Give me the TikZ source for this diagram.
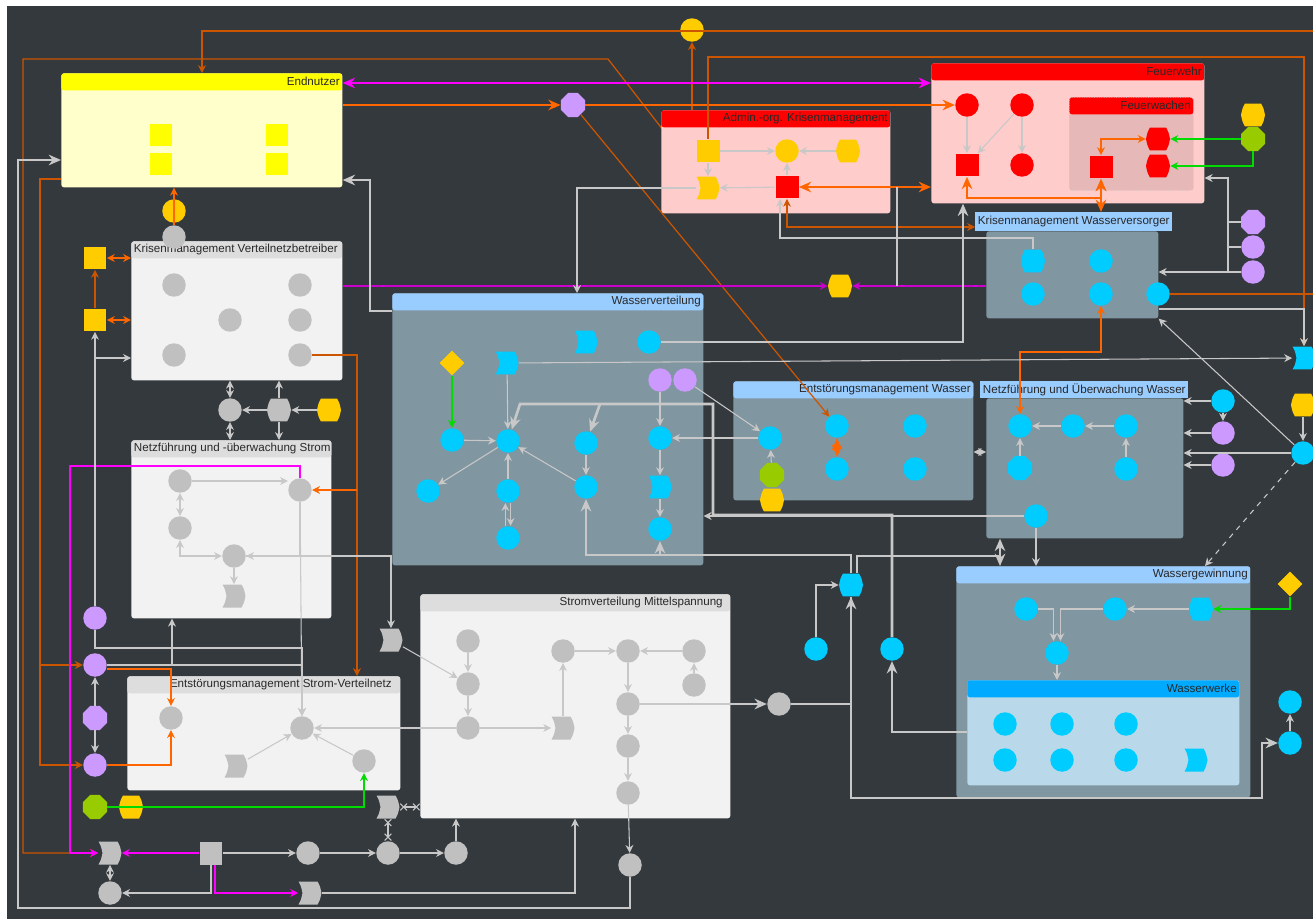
\documentclass[tikz,border=0pt]{standalone}
\usepackage{fontspec}
\usepackage{tikz}
\usetikzlibrary{arrows.meta,shapes.geometric}
\newfontfamily\lblfont{Liberation Sans}

\definecolor{bgdark}{RGB}{52,57,61}
\definecolor{ngrey}{RGB}{192,192,192}
\definecolor{lgrey}{RGB}{200,200,200}
\definecolor{ncyan}{RGB}{0,204,255}
\definecolor{npurple}{RGB}{204,153,255}
\definecolor{nyellow}{RGB}{255,204,0}
\definecolor{lemon}{RGB}{255,255,0}
\definecolor{nred}{RGB}{255,0,0}
\definecolor{ngreen}{RGB}{153,204,0}
\definecolor{pinkbody}{RGB}{255,204,204}
\definecolor{pinkdeep}{RGB}{230,184,183}
\definecolor{cream}{RGB}{255,255,204}
\definecolor{paleblue}{RGB}{153,204,255}
\definecolor{slate}{RGB}{128,150,160}
\definecolor{wwhead}{RGB}{0,170,255}
\definecolor{wwbody}{RGB}{185,216,234}
\definecolor{lightbody}{RGB}{242,242,242}
\definecolor{lighthead}{RGB}{221,221,221}
\definecolor{orng}{RGB}{255,102,0}
\definecolor{orngdark}{RGB}{204,85,0}
\definecolor{mag}{RGB}{255,0,255}
\definecolor{magdark}{RGB}{204,0,204}
\definecolor{grn}{RGB}{0,220,0}
\definecolor{textdark}{RGB}{40,40,40}

\pgfdeclarelayer{back}
\pgfsetlayers{back,main}

\tikzset{
  panel/.style={rectangle, rounded corners=1.5pt, anchor=north west, inner sep=0pt},
  hdr/.style={path picture={\fill[#1] (path picture bounding box.north west) rectangle ([yshift=-0.34cm]path picture bounding box.north east);}},
  ttl/.style={font=\lblfont\fontsize{6.6}{8}\selectfont, text=textdark, inner xsep=1.5pt, inner ysep=0pt, minimum height=0.34cm},
  rnd/.style={circle, fill=#1, minimum size=0.47cm, inner sep=0pt},
  sq/.style={rectangle, fill=#1, minimum size=0.46cm, inner sep=0pt},
  oct/.style={regular polygon, regular polygon sides=8, fill=#1, minimum size=0.52cm, inner sep=0pt},
  flg/.style={rectangle, minimum width=0.46cm, minimum height=0.46cm, inner sep=0pt,
    path picture={\fill[#1, shift={(path picture bounding box.center)}]
      (-0.23cm,0.23cm) -- (0.15cm,0.23cm) .. controls (0.2cm,0.14cm) .. (0.23cm,0cm) .. controls (0.2cm,-0.14cm) .. (0.15cm,-0.23cm)
      -- (-0.23cm,-0.23cm) .. controls (-0.18cm,-0.14cm) .. (-0.15cm,0cm) .. controls (-0.18cm,0.14cm) .. (-0.23cm,0.23cm) -- cycle;}},
  brl/.style={rectangle, minimum width=0.48cm, minimum height=0.46cm, inner sep=0pt,
    path picture={\fill[#1, shift={(path picture bounding box.center)}]
      (-0.16cm,0.23cm) -- (0.16cm,0.23cm) .. controls (0.21cm,0.14cm) .. (0.24cm,0cm) .. controls (0.21cm,-0.14cm) .. (0.16cm,-0.23cm)
      -- (-0.16cm,-0.23cm) .. controls (-0.21cm,-0.14cm) .. (-0.24cm,0cm) .. controls (-0.21cm,0.14cm) .. (-0.16cm,0.23cm) -- cycle;}},
  dia/.style={diamond, fill=#1, minimum size=0.5cm, inner sep=0pt},
  lline/.style={draw=lgrey, line width=0.6pt},
  lthick/.style={draw=lgrey, line width=1.5pt, >={Stealth[length=7pt,width=6pt]}},
  oline/.style={draw=orngdark, line width=0.7pt},
  othick/.style={draw=orng, line width=1.4pt, >={Stealth[length=7pt,width=6pt]}},
  mline/.style={draw=magdark, line width=0.7pt},
  mthick/.style={draw=mag, line width=1.4pt, >={Stealth[length=7pt,width=6pt]}},
  gline/.style={draw=grn, line width=0.7pt}
}

\newcommand{\panel}[6]{%
  \pgfmathsetmacro{\panw}{(#4-#2)*0.02}%
  \pgfmathsetmacro{\panh}{(#5-#3)*0.02}%
  \node[panel, minimum width=\panw cm, minimum height=\panh cm, #6] (#1) at (#2,#3) {};%
}

\begin{document}
\begin{tikzpicture}[x=0.02cm, y=-0.02cm, >={Stealth[length=4.5pt,width=4.5pt]}]
\useasboundingbox (0,0) rectangle (1313,919);

% Groups
\panel{en}{61}{73}{342}{187}{fill=cream, hdr=lemon, label={[ttl, anchor=north east]north east:Endnutzer}}
\panel{adm}{661}{110}{890}{213}{fill=pinkbody, hdr=nred, label={[ttl, anchor=north east]north east:Admin.-org. Krisenmanagement}}
\panel{fw}{931}{63}{1204}{203}{fill=pinkbody, hdr=nred, label={[ttl, anchor=north east]north east:Feuerwehr}}
\panel{fwa}{1069}{97}{1193}{190}{fill=pinkdeep, draw=gray!45, densely dotted, hdr=nred, label={[ttl, anchor=north east]north east:Feuerwachen}}
\panel{kv}{131}{241}{342}{380}{fill=lightbody, hdr=lighthead, label={[ttl, anchor=north west]north west:Krisenmanagement Verteilnetzbetreiber}}
\panel{ns}{131}{440}{331}{618}{fill=lightbody, hdr=lighthead, label={[ttl, anchor=north west]north west:Netzführung und -überwachung Strom}}
\panel{es}{127}{676}{400}{790}{fill=lightbody, hdr=lighthead, label={[ttl, anchor=north east, xshift=-0.12cm]north east:Entstörungsmanagement Strom-Verteilnetz}}
\panel{sv}{420}{594}{730}{818}{fill=lightbody, hdr=lighthead, label={[ttl, anchor=north east, xshift=-0.1cm]north east:Stromverteilung Mittelspannung}}
\panel{wv}{392}{293}{703}{565}{fill=slate, hdr=paleblue, label={[ttl, anchor=north east]north east:Wasserverteilung}}
\panel{ew}{733}{381}{973}{500}{fill=slate, hdr=paleblue, label={[ttl, anchor=north east]north east:Entstörungsmanagement Wasser}}
\panel{kw}{986}{231}{1158}{318}{fill=slate}
\node[ttl, fill=paleblue, anchor=north west, minimum height=0.38cm] (kwt) at (975,212) {Krisenmanagement Wasserversorger};
\panel{nw}{986}{398}{1183}{538}{fill=slate}
\node[ttl, fill=paleblue, anchor=north west] (nwt) at (980,381) {Netzführung und Überwachung Wasser};
\panel{wg}{956}{566}{1250}{797}{fill=slate, hdr=paleblue, label={[ttl, anchor=north east]north east:Wassergewinnung}}
\panel{ww}{967}{680}{1239}{785}{fill=wwbody, hdr=wwhead, label={[ttl, anchor=north east]north east:Wasserwerke}}

% Nodes
\coordinate (offr1) at (1313,31);
\coordinate (offr2) at (1313,294);
\node[sq=lemon] (en1) at (161,135) {};
\node[sq=lemon] (en2) at (161,164) {};
\node[sq=lemon] (en3) at (277,135) {};
\node[sq=lemon] (en4) at (277,164) {};

\node[sq=nyellow] (a1) at (708,151) {};
\node[rnd=nyellow] (a2) at (787,151) {};
\node[brl=nyellow] (a3) at (848,151) {};
\node[flg=nyellow] (a4) at (708,188) {};
\node[sq=nred] (a5) at (787,187) {};
\node[rnd=nyellow] (yc) at (692,30) {};
\node[oct=npurple] (po1) at (573,105) {};
\node[brl=nyellow] (y7) at (840,286) {};

\node[rnd=nred] (f1) at (967,105) {};
\node[rnd=nred] (f2) at (1022,105) {};
\node[sq=nred] (f3) at (967,165) {};
\node[rnd=nred] (f4) at (1022,165) {};
\node[sq=nred] (f5) at (1101,167) {};
\node[brl=nred] (f6) at (1158,139) {};
\node[brl=nred] (f7) at (1158,166) {};
\node[brl=nyellow] (y1) at (1253,115) {};
\node[oct=ngreen] (g1) at (1253,139) {};

\node[brl=ncyan] (k1) at (1033,261) {};
\node[rnd=ncyan] (k2) at (1101,261) {};
\node[rnd=ncyan] (k3) at (1033,294) {};
\node[rnd=ncyan] (k4) at (1101,294) {};
\node[rnd=ncyan] (k5) at (1158,294) {};
\node[oct=npurple] (p1) at (1253,222) {};
\node[rnd=npurple] (p2) at (1253,247) {};
\node[rnd=npurple] (p3) at (1253,272) {};
\node[flg=ncyan] (c1) at (1304,358) {};
\node[brl=nyellow] (y8) at (1303,405) {};
\node[rnd=ncyan] (c2) at (1303,453) {};

\node[rnd=ngrey] (v1) at (174,285) {};
\node[rnd=ngrey] (v2) at (300,285) {};
\node[rnd=ngrey] (v3) at (230,320) {};
\node[rnd=ngrey] (v4) at (300,320) {};
\node[rnd=ngrey] (v5) at (174,355) {};
\node[rnd=ngrey] (v6) at (300,355) {};
\node[rnd=ngrey] (v7) at (174,237) {};
\node[rnd=nyellow] (yc2) at (174,211) {};
\node[sq=nyellow] (ys1) at (95,258) {};
\node[sq=nyellow] (ys2) at (95,320) {};
\node[rnd=ngrey] (v8) at (230,410) {};
\node[brl=ngrey] (v9) at (279,410) {};
\node[brl=nyellow] (y3) at (329,410) {};

\node[rnd=ngrey] (n1) at (180,481) {};
\node[rnd=ngrey] (n2) at (300,490) {};
\node[rnd=ngrey] (n3) at (180,528) {};
\node[rnd=ngrey] (n4) at (234,556) {};
\node[flg=ngrey] (n5) at (234,596) {};

\node[rnd=npurple] (pl1) at (95,618) {};
\node[rnd=npurple] (pl2) at (95,665) {};
\node[oct=npurple] (pl3) at (95,718) {};
\node[rnd=npurple] (pl4) at (95,765) {};
\node[oct=ngreen] (g2) at (95,807) {};
\node[brl=nyellow] (y4) at (131,807) {};

\node[rnd=ngrey] (e1) at (171,718) {};
\node[rnd=ngrey] (e2) at (302,728) {};
\node[flg=ngrey] (e3) at (236,766) {};
\node[rnd=ngrey] (e4) at (364,761) {};
\node[flg=ngrey] (s0) at (391,640) {};
\node[flg=ngrey] (s9) at (388,807) {};

\node[rnd=ngrey] (s1) at (468,641) {};
\node[rnd=ngrey] (s2) at (468,684) {};
\node[rnd=ngrey] (s3) at (468,728) {};
\node[flg=ngrey] (s4) at (563,728) {};
\node[rnd=ngrey] (s5) at (563,651) {};
\node[rnd=ngrey] (s6) at (628,651) {};
\node[rnd=ngrey] (s7) at (694,651) {};
\node[rnd=ngrey] (s8) at (694,685) {};
\node[rnd=ngrey] (s10) at (628,704) {};
\node[rnd=ngrey] (s11) at (628,746) {};
\node[rnd=ngrey] (s12) at (628,793) {};
\node[rnd=ngrey] (s13) at (779,704) {};
\node[rnd=ngrey] (s14) at (630,865) {};

\node[flg=ngrey] (b1) at (110,853) {};
\node[sq=ngrey] (b2) at (211,853) {};
\node[rnd=ngrey] (b3) at (308,853) {};
\node[rnd=ngrey] (b4) at (388,853) {};
\node[rnd=ngrey] (b5) at (456,853) {};
\node[rnd=ngrey] (b6) at (110,893) {};
\node[flg=ngrey] (b7) at (310,893) {};

\node[flg=ncyan] (w1) at (586,342) {};
\node[rnd=ncyan] (w2) at (649,342) {};
\node[dia=nyellow] (w3) at (452,363) {};
\node[flg=ncyan] (w4) at (507,363) {};
\node[rnd=npurple] (w5) at (660,380) {};
\node[rnd=npurple] (w6) at (685,380) {};
\node[rnd=ncyan] (w7) at (452,440) {};
\node[rnd=ncyan] (w8) at (508,441) {};
\node[rnd=ncyan] (w9) at (586,443) {};
\node[rnd=ncyan] (w10) at (660,438) {};
\node[rnd=ncyan] (w11) at (428,491) {};
\node[rnd=ncyan] (w12) at (508,491) {};
\node[rnd=ncyan] (w13) at (586,487) {};
\node[flg=ncyan] (w14) at (660,487) {};
\node[rnd=ncyan] (w15) at (508,538) {};
\node[rnd=ncyan] (w16) at (660,529) {};

\node[rnd=ncyan] (x1) at (770,438) {};
\node[rnd=ncyan] (x2) at (837,426) {};
\node[rnd=ncyan] (x3) at (915,426) {};
\node[rnd=ncyan] (x4) at (837,469) {};
\node[rnd=ncyan] (x5) at (915,469) {};
\node[oct=ngreen] (g3) at (772,475) {};
\node[brl=nyellow] (y5) at (772,500) {};

\node[rnd=ncyan] (m1) at (1020,426) {};
\node[rnd=ncyan] (m2) at (1073,426) {};
\node[rnd=ncyan] (m3) at (1126,426) {};
\node[oct=ncyan] (m4) at (1020,468) {};
\node[rnd=ncyan] (m5) at (1126,469) {};
\node[rnd=ncyan] (m6) at (1036,516) {};
\node[rnd=ncyan] (r1) at (1223,401) {};
\node[rnd=npurple] (r2) at (1223,433) {};
\node[rnd=npurple] (r3) at (1223,465) {};

\node[brl=ncyan] (c3) at (851,585) {};
\node[rnd=ncyan] (c4) at (816,649) {};
\node[rnd=ncyan] (c5) at (892,649) {};
\node[rnd=ncyan] (h1) at (1026,609) {};
\node[rnd=ncyan] (h2) at (1115,609) {};
\node[brl=ncyan] (h3) at (1201,609) {};
\node[rnd=ncyan] (h4) at (1057,653) {};
\node[dia=nyellow] (y6) at (1290,584) {};
\node[rnd=ncyan] (q1) at (1005,724) {};
\node[rnd=ncyan] (q2) at (1062,724) {};
\node[rnd=ncyan] (q3) at (1126,724) {};
\node[rnd=ncyan] (q4) at (1005,760) {};
\node[rnd=ncyan] (q5) at (1062,760) {};
\node[rnd=ncyan] (q6) at (1126,760) {};
\node[flg=ncyan] (q7) at (1196,760) {};
\node[rnd=ncyan] (c6) at (1290,702) {};
\node[rnd=ncyan] (c7) at (1290,743) {};

% Arrows, orange
\draw[oline, ->] (offr1) -| (en.north -| 202,0);
\draw[oline, ->] (yc |- adm.north) -- (yc);
\draw[oline, ->] (en.west |- 0,179) -| (40,765) -- (pl4);
\draw[oline, ->] (40,665) -- (pl2);
\draw[oline, ->, draw=orng] (v7) -- (en.south -| v7);
\draw[oline, <->, draw=orng] (ys1) -- (kv.west |- ys1);
\draw[oline, <->, draw=orng] (ys2) -- (kv.west |- ys2);
\draw[oline, ->] (ys2) -- (ys1);
\draw[oline, ->] (v6) -| (es.north -| 357,0);
\draw[oline, ->, draw=orng] (357,490) -- (n2);
\draw[oline, ->, draw=orng] (pl2.east |- 0,669) -| (e1);
\draw[oline, ->, draw=orng] (pl4) -| (e1);
\draw[othick, ->] (en.east |- 0,105) -- (po1);
\draw[othick, ->] (po1) -- (f1);
\draw[oline, ->] (po1) -- (x2);
\draw[othick, <->] (a5) -- (fw.west |- a5);
\draw[oline, <->] (a5) |- (kwt.west |- 0,227);
\draw[othick, <->] (f3) -- (f3 |- 0,198) -| (f5);
\draw[othick, <->] (f5) -- (kwt.north -| f5);
\draw[oline, <->, draw=orng] (f5) |- (f6);
\draw[oline, ->] (a1) |- (1304,57) -- (c1);
\draw[oline] (k5) -- (offr2);
\draw[oline, <->, draw=orng] (k4) -- (k4 |- 0,352) -| (m1);
\draw[othick, <->] (x2) -- (x4);

% Arrows, magenta and green
\draw[mthick, <->] (en.east |- 0,83) -- (fw.west |- 0,83);
\draw[mline, ->] (kv.east |- y7) -- (y7);
\draw[mline, ->] (kw.west |- y7) -- (y7);
\draw[mline, ->, draw=mag] (n2) |- (70,466) |- (b1);
\draw[mline, ->, draw=mag] (b2) -- (b1);
\draw[mline, ->, draw=mag] (b2.south -| 215,0) |- (b7);
\draw[gline, ->] (g1) -- (f6);
\draw[gline, ->] (g1) |- (f7);
\draw[gline, ->] (w3) -- (w7);
\draw[gline, ->] (g2) -| (e4);
\draw[gline, ->] (y6) |- (h3);

% Arrows, grey
\draw[lline, ->] (a1) -- (a2);
\draw[lline, ->] (a3) -- (a2);
\draw[lline, ->] (a1) -- (a4);
\draw[lline, ->] (a5) -- (a4);
\draw[lline, ->] (a5) -- (a2);
\draw[lline, ->] (a4) -| (wv.north -| 577,0);
\draw[lline, ->] (k1) |- (780,238) -- (a5.south -| 780,0);
\draw[lline] (a5 -| 897,0) -- (y7 -| 897,0);
\draw[lline, ->] (f1) -- (f3);
\draw[lline, ->] (f2) -- (f3);
\draw[lline, ->] (f2) -- (f4);
\draw[lline, ->] (p3) -| (1228,178) -- (fw.east |- 0,178);
\draw[lline, ->] (1228,272) -- (kw.east |- 0,272);
\draw[lline] (p1) -- (p1 -| 1228,0);
\draw[lline] (p2) -- (p2 -| 1228,0);
\draw[lline, ->] (kw.east |- 0,309) -| (c1);
\draw[lline, ->] (c2) -- (kw.south east);
\draw[lline, ->] (y8) -- (c2);
\draw[lline, ->] (c2) -- (nw.east |- c2);
\draw[lline, dashed, ->] (c2) -- (wg.north -| 1205,0);
\draw[lline, ->] (w4) -- (c1);
\draw[lline, ->] (r1) -- (nw.east |- r1);
\draw[lline, ->] (r1) -- (r2);
\draw[lline, ->] (r2) -- (nw.east |- r2);
\draw[lline, ->] (r3) -- (nw.east |- r3);
\draw[lline, <->] (ew.east |- 0,452) -- (nw.west |- 0,452);
\draw[lline, ->] (m3) -- (m2);
\draw[lline, ->] (m2) -- (m1);
\draw[lline, ->] (m4) -- (m1);
\draw[lline, ->] (m5) -- (m3);
\draw[lline, ->] (m6) -- (wg.north -| m6);
\draw[lline, ->] (m6) -- (wv.east |- m6);
\draw[lline, ->] (g3) -- (x1);
\draw[lline, ->] (x1) -- (w10);
\draw[lline, ->] (w6) -- (x1);
\draw[lline, ->] (w7) -- (w8);
\draw[lline, ->] (w4) -- (w8);
\draw[lline, ->] (w8) -- (w11);
\draw[lline, ->] (w12) -- (w8);
\draw[lline, ->] ([xshift=-1.5pt]w15.north) -- ([xshift=-1.5pt]w12.south);
\draw[lline, ->] ([xshift=1.5pt]w12.south) -- ([xshift=1.5pt]w15.north);
\draw[lline, ->] (w13) -- (w8);
\draw[lline, ->] (w9) -- (w13);
\draw[lline, ->] (w5) -- (w10);
\draw[lline, ->] (w10) -- (w14);
\draw[lline, ->] (w14) -- (w16);
\draw[lline, ->] (h3) -- (h2);
\draw[lline, ->] (h1) -| ([xshift=-2pt]h4.north);
\draw[lline, ->] (h2) -| ([xshift=2pt]h4.north);
\draw[lline, ->] (h4) -- (ww.north -| h4);
\draw[lline, ->] (c7) -- (c6);
\draw[lline, ->] (c4) |- (c3);

\draw[lline, <->] (kv.south -| v8) -- (v8);
\draw[lline, <->] (v8) -- (ns.north -| v8);
\draw[lline, ->] (v9) -- (v8);
\draw[lline, ->] (v9) -- (kv.south -| v9);
\draw[lline, ->] (v9) -- (ns.north -| v9);
\draw[lline, ->] (y3) -- (v9);
\draw[lline, ->] (pl1) -- (ys2);
\draw[lline, ->] (ys2 |- 0,358) -- (kv.west |- 0,358);
\draw[lline, ->] (n1) -- (n2.west |- n1);
\draw[lline, <->] (n1) -- (n3);
\draw[lline, ->] (n2) |- (n4);
\draw[lline, <->] (n3) |- (n4);
\draw[lline, ->] (n4) -- (n5);
\draw[lline, ->] (n4) -| (s0);
\draw[lline, ->] (n2) -- (e2);
\draw[lline, ->] (pl1) |- (e2 |- 0,648) -- (e2);
\draw[lline, ->] (pl2) -| (ns.south -| 172,0);
\draw[lline, ->] (pl2) -| (e2);
\draw[lline, ->] (pl3) -- (pl2);
\draw[lline, ->] (pl3) -- (pl4);
\draw[lline, ->] (e3) -- (e2);
\draw[lline, ->] (e4) -- (e2);
\draw[lline, ->] (s3) -- (e2);
\draw[lline, ->] (s0) -- (s2);
\draw[lline, ->] (s1) -- (s2);
\draw[lline, ->] (s2) -- (s3);
\draw[lline, ->] (s3) -- (s4);
\draw[lline, ->] (s4) -- (s5);
\draw[lline, ->] (s5) -- (s6);
\draw[lline, ->] (s7) -- (s6);
\draw[lline, ->] (s8) -- (s7);
\draw[lline, ->] (s6) -- (s10);
\draw[lline, ->] (s10) -- (s11);
\draw[lline, ->] (s11) -- (s12);
\draw[lline, ->] (s12) -- (s14);
\draw[lthick, ->] (s10) -- (s13);
\draw[lthick, ->] (s13) -| (c3);
\draw[lline, {Rays[n=4]}-{Rays[n=4]}] (s9) -- (sv.west |- s9);
\draw[lline, {Rays[n=4]}-{Rays[n=4]}] (s9) -- (b4);
\draw[lline, ->] (b2) -- (b3);
\draw[lline, ->] (b3) -- (b4);
\draw[lline, ->] (b4) -- (b5);
\draw[lline, ->] (b5) -- (sv.south -| b5);
\draw[lline, <->] (b1) -- (b6);
\draw[lline, ->] (b2) |- (b6);
\draw[lline, ->] (b7) -| (sv.south -| 575,0);
\draw[lthick, ->] (s14) |- (18,908) |- (en.west |- 0,160);

\draw[lthick, ->] (wv.west |- 0,311) -| (370,180) -- (en.east |- 0,180);
\draw[lthick, ->] (w2) -| (fw.south -| 963,0);
\draw[lthick, ->] (c5) |- (713,515) |- (520,404) -- (w8);
\draw[lthick, ->] (600,404) -- (w9);
\draw[lthick, ->] (ww.west |- 0,732) -| (c5);
\draw[lthick, ->] (c3) |- (w13 |- 0,555) -- (w13);
\draw[lthick, ->] (w16 |- 0,555) -- (w16);
\draw[lthick, <->] (nw.south -| 1000,0) -- (wg.north -| 1000,0);
\draw[lthick] (c3.north -| 857,0) |- (1000,556);
\draw[lthick, ->] (c3) |- (1262,798) |- (c7);

\begin{pgfonlayer}{back}
  \fill[white] (0,0) rectangle (1313,919);
  \fill[bgdark] (7,6) rectangle (1313,919);
  \draw[oline, ->] (a4) -- (608,59) -| (23,853) -- (b1);
\end{pgfonlayer}
\end{tikzpicture}
\end{document}
